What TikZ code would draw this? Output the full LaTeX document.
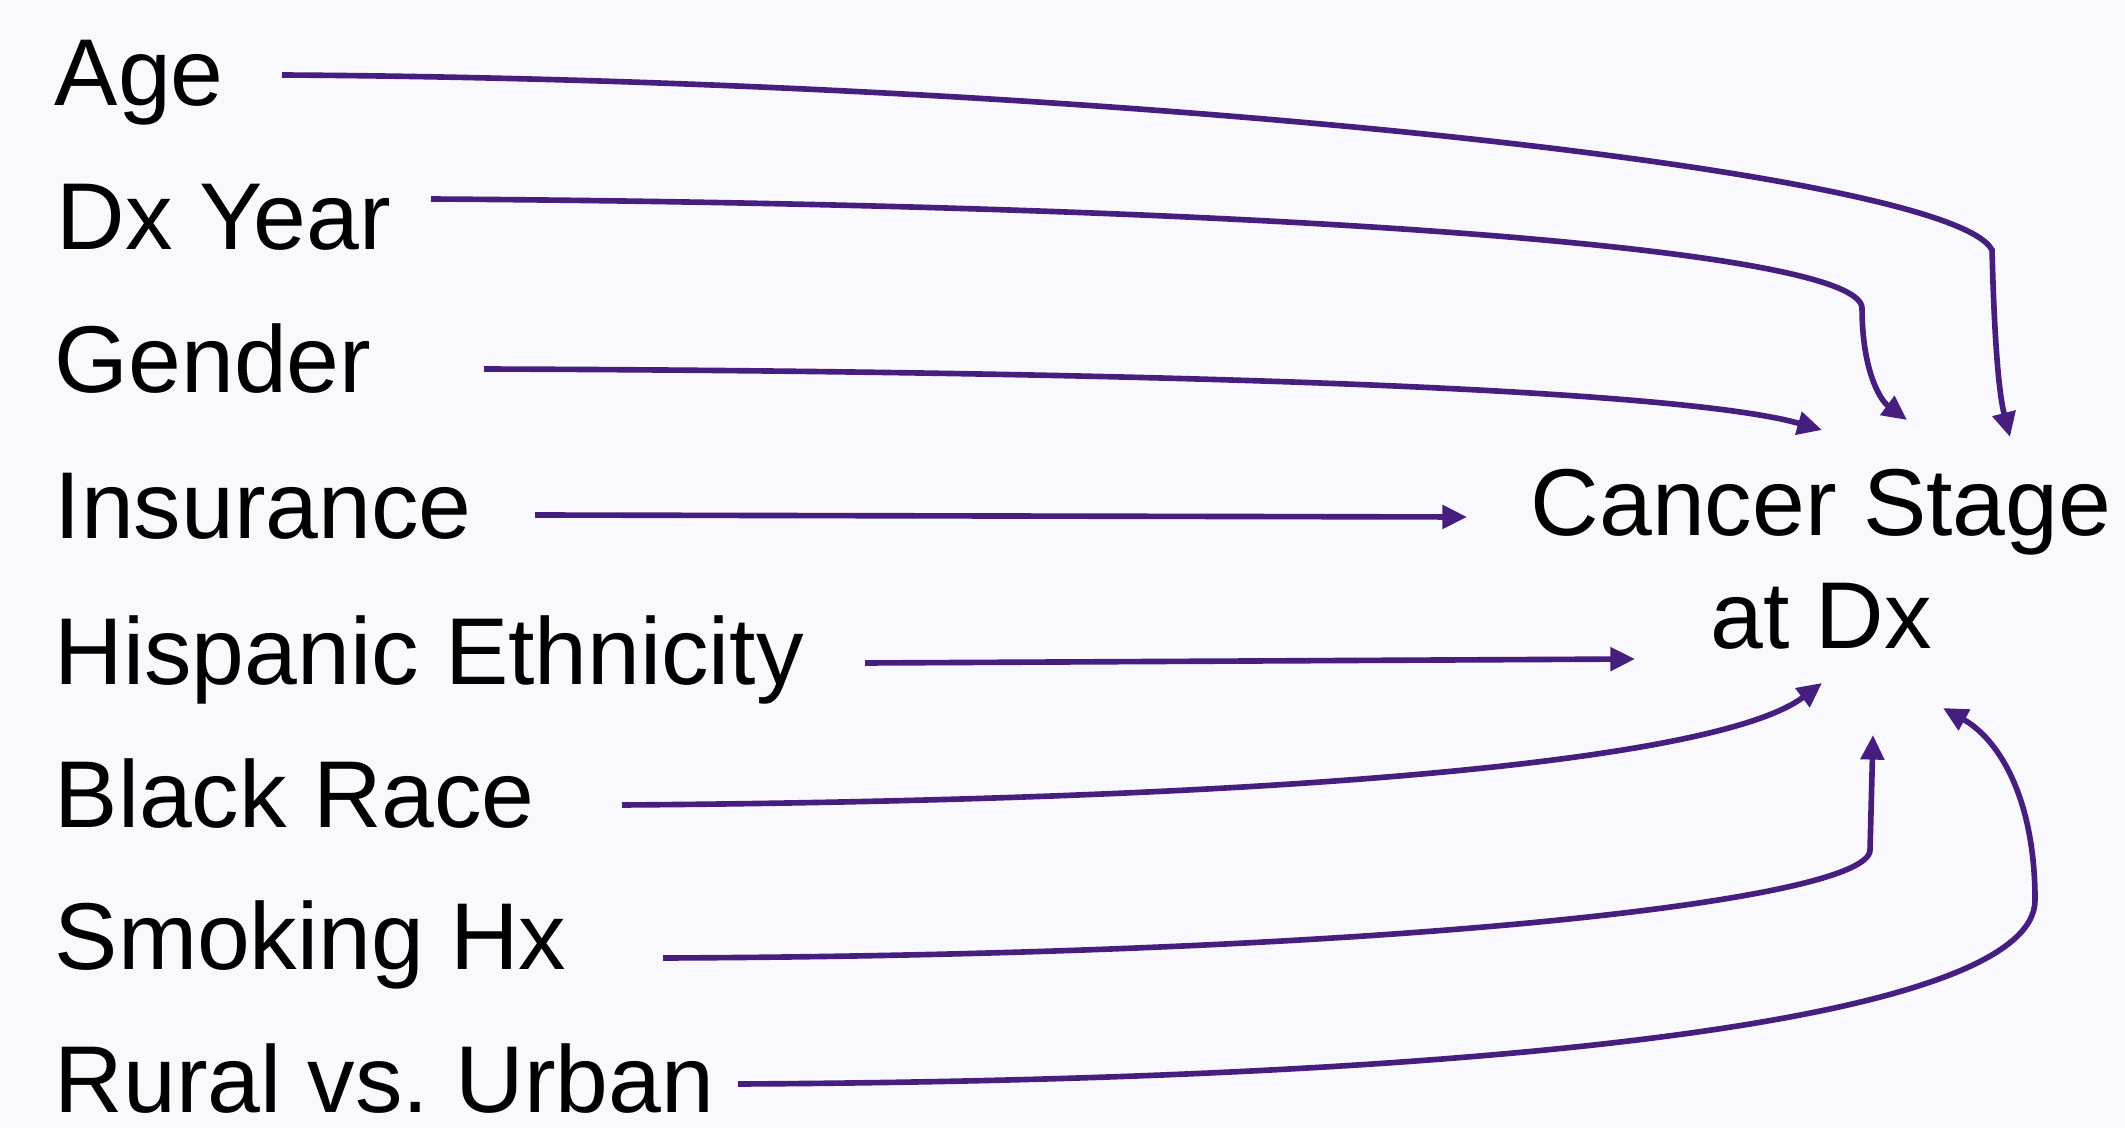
\documentclass[tikz,border=0pt]{standalone}
\usepackage{fontspec}
\setmainfont{Liberation Sans}
\usetikzlibrary{arrows.meta}
\definecolor{fondo}{RGB}{249,248,253}
\definecolor{morado}{RGB}{69,30,128}

\begin{document}
\begin{tikzpicture}[x=0.01cm, y=-0.01cm,
  factor/.style={anchor=base west, inner sep=0pt,
                 font=\fontsize{27}{32.1}\selectfont},
  desenlace/.style={anchor=base, align=center, inner sep=0pt,
                    font=\fontsize{27}{32.1}\selectfont},
  flecha/.style={-{Triangle[length=7pt, width=6.5pt]}, line width=1.6pt,
                 color=morado}]
  \fill[fondo] (0,0) rectangle (2125,1128);
  \useasboundingbox (0,0) rectangle (2125,1128);
  % factores
  \node[factor] (age) at (54,106) {Age};
  \node[factor] (year) at (56,250) {Dx Year};
  \node[factor] (gender) at (54,393) {Gender};
  \node[factor] (insur) at (54,538) {Insurance};
  \node[factor] (hisp) at (54,684) {Hispanic Ethnicity};
  \node[factor] (black) at (54,827) {Black Race};
  \node[factor] (smoke) at (54,969) {Smoking Hx};
  \node[factor] (rural) at (54,1112) {Rural vs.\ Urban};
  \node[desenlace] (stage) at (1821,648) {Cancer Stage\\at Dx};
  % inicio y fin de cada flecha
  \coordinate (age-s) at (282,75);
  \coordinate (age-e) at (2010,437);
  \coordinate (year-s) at (431,199);
  \coordinate (year-e) at (1907,420);
  \coordinate (gender-s) at (484,369);
  \coordinate (gender-e) at (1822,430);
  \coordinate (insur-s) at (535,515);
  \coordinate (insur-e) at (1467,517);
  \coordinate (hisp-s) at (865,663);
  \coordinate (hisp-e) at (1635,659);
  \coordinate (black-s) at (622,805);
  \coordinate (black-e) at (1822,683);
  \coordinate (smoke-s) at (663,958);
  \coordinate (smoke-e) at (1873,735);
  \coordinate (rural-s) at (738,1084);
  \coordinate (rural-e) at (1943,708);
  \draw[flecha] (age-s) .. controls (1100,80) and (1950,170) .. (1992,250)
    .. controls (1994,330) and (1998,390) .. (age-e);
  \draw[flecha] (year-s) .. controls (1300,205) and (1860,250) .. (1862,308)
    .. controls (1862,370) and (1880,400) .. (year-e);
  \draw[flecha] (gender-s) .. controls (1300,372) and (1700,395) .. (gender-e);
  \draw[flecha] (insur-s) -- (insur-e);
  \draw[flecha] (hisp-s) -- (hisp-e);
  \draw[flecha] (black-s) .. controls (1300,800) and (1720,760) .. (black-e);
  \draw[flecha] (smoke-s) .. controls (1400,955) and (1870,900) .. (1870,850)
    -- (smoke-e);
  \draw[flecha] (rural-s) .. controls (1500,1080) and (2035,1020) .. (2035,900)
    .. controls (2035,800) and (2000,740) .. (rural-e);
\end{tikzpicture}
\end{document}
